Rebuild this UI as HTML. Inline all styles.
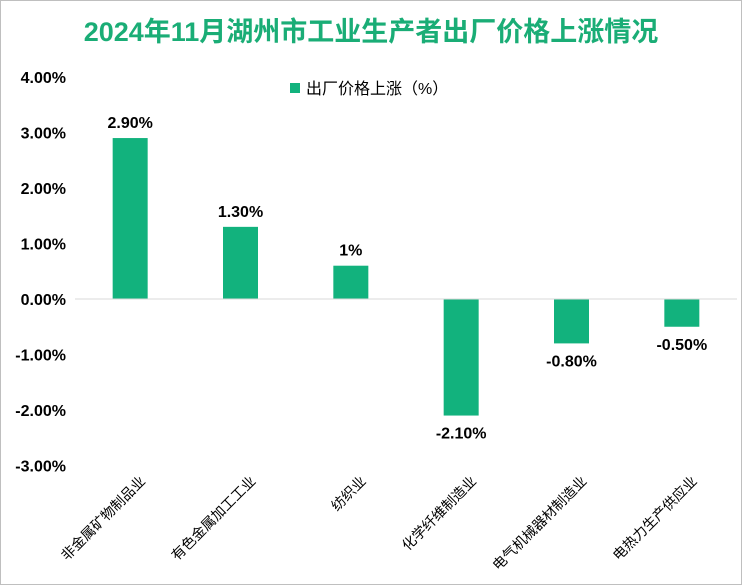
<!DOCTYPE html>
<html><head><meta charset="utf-8">
<style>
html,body{margin:0;padding:0;background:#fff;}
svg{display:block;font-family:"Liberation Sans","Noto Sans CJK SC",sans-serif;}
</style></head>
<body>
<svg id="chart" width="742" height="585" viewBox="0 0 742 585">
<rect x="0.5" y="0.5" width="741" height="584" fill="#fff" stroke="#bfbfbf"/>
<text x="371" y="41" text-anchor="middle" font-size="27" font-weight="bold" fill="#1aad76">2024年11月湖州市工业生产者出厂价格上涨情况</text>
<g>
<rect x="290" y="83" width="10" height="10" fill="#12b27d"/>
<text x="306" y="94" font-size="16" fill="#000">出厂价格上涨（%）</text>
</g>
<g id="yaxis"></g>
<g id="bars"></g>
<g id="xaxis"></g>
</svg>
<script>
const categories=["非金属矿物制品业","有色金属加工工业","纺织业","化学纤维制造业","电气机械器材制造业","电热力生产供应业"];
const values=[2.9,1.3,0.6,-2.1,-0.8,-0.5];
const valueLabels=["2.90%","1.30%","1%","-2.10%","-0.80%","-0.50%"];
const yTicks=[4,3,2,1,0,-1,-2,-3];
const yTickLabels=["4.00%","3.00%","2.00%","1.00%","0.00%","-1.00%","-2.00%","-3.00%"];
const NS="http://www.w3.org/2000/svg";
const plotL=75,plotR=737,zeroY=299,pxPer=55.5;
const y=v=>zeroY-v*pxPer;
const band=(plotR-plotL)/categories.length;
const x=i=>plotL+band*(i+0.5);
function mk(tag,attrs,parent,txt){const e=document.createElementNS(NS,tag);for(const k in attrs)e.setAttribute(k,attrs[k]);if(txt!==undefined)e.textContent=txt;parent.appendChild(e);return e;}
const ya=document.getElementById('yaxis');
yTicks.forEach((t,i)=>{
  const e=mk('text',{x:66,y:y(t)+6,'text-anchor':'end','font-size':16,'font-weight':'bold',fill:'#000'},ya,yTickLabels[i]);
  
  
});
const bg=document.getElementById('bars');
const xa=document.getElementById('xaxis');
const zl=mk('line',{x1:plotL,x2:plotR,y1:zeroY,y2:zeroY,stroke:'#d9d9d9'},xa);


values.forEach((v,i)=>{
  const w=35,cx=x(i);
  const top=Math.min(y(v),zeroY),h=Math.abs(y(v)-zeroY);
  const r=mk('rect',{x:cx-w/2,y:top,width:w,height:h,fill:'#12b27d'},bg);
  
  
  const ly=v>=0?y(v)-10:y(v)+23;
  const l=mk('text',{x:cx,y:ly,'text-anchor':'middle','font-size':16,'font-weight':'bold',fill:'#000'},bg,valueLabels[i]);
  
  
  const lx=cx+16,lyy=482;
  const c=mk('text',{x:lx,y:lyy,'text-anchor':'end','font-size':14,fill:'#000',transform:`rotate(-45 ${lx} ${lyy})`},xa,categories[i]);
  
  
});
</script>
</body></html>
